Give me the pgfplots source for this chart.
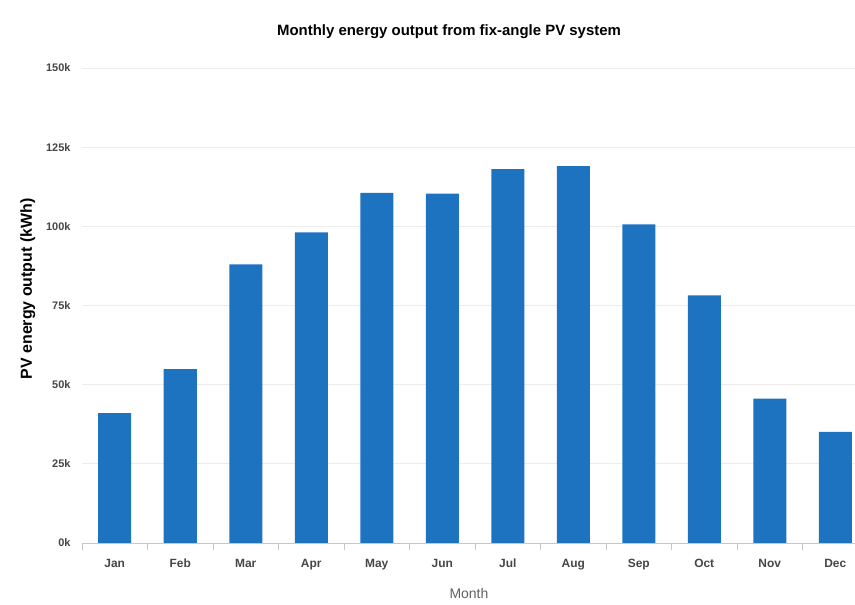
\documentclass[border=0pt]{standalone}
\usepackage{pgfplots}
\pgfplotsset{compat=1.18}
\usepackage{fontspec}
\setmainfont{Liberation Sans}
\definecolor{barblue}{RGB}{30,115,192}
\definecolor{ticktext}{RGB}{70,70,70}
\begin{document}
\begin{tikzpicture}
\path[use as bounding box] (-82bp,-62bp) rectangle (773bp,543bp);
\begin{axis}[
  at={(0,0)}, anchor=south west,
  scale only axis, width=786bp, height=475bp,
  xmin=-0.5, xmax=11.5, ymin=0, ymax=150000,
  ybar, bar width=33bp,
  axis lines*=left,
  y axis line style={draw=none},
  x axis line style={draw=gray!45, line width=0.8pt},
  ytick={0,25000,50000,75000,100000,125000,150000},
  yticklabels={0k,25k,50k,75k,100k,125k,150k},
  scaled y ticks=false,
  ymajorgrids, grid style={gray!15, line width=0.8pt},
  ytick style={draw=none},
  xtick={0,1,2,3,4,5,6,7,8,9,10,11},
  xticklabels={Jan,Feb,Mar,Apr,May,Jun,Jul,Aug,Sep,Oct,Nov,Dec},
  xtick style={draw=none},
  extra x ticks={-0.5,0.5,1.5,2.5,3.5,4.5,5.5,6.5,7.5,8.5,9.5,10.5,11.5},
  extra x tick labels={},
  extra x tick style={xtick style={draw=gray!45, line width=0.8pt}, major tick length=7bp, tick align=outside},
  tick label style={font=\fontsize{11}{13}\selectfont\bfseries, text=ticktext},
  yticklabel style={xshift=-8bp},
  xticklabel style={yshift=-8bp, font=\fontsize{12}{14}\selectfont\bfseries, text height=1.6ex, text depth=0.3ex},
  title={Monthly energy output from fix-angle PV system},
  title style={font=\fontsize{15}{17}\selectfont\bfseries, yshift=20bp, xshift=-26bp},
  xlabel={Month},
  xlabel style={font=\fontsize{14}{16}\selectfont, text=gray!75!black, yshift=-2bp, xshift=-6bp},
  ylabel={PV energy output (kWh)},
  ylabel style={at={(ticklabel cs:0.535)}, font=\fontsize{16}{18}\selectfont\bfseries, yshift=4bp},
]
\addplot[fill=barblue, draw=none] coordinates {
  (0,41000) (1,54900) (2,88000) (3,98100) (4,110600) (5,110300)
  (6,118100) (7,119000) (8,100600) (9,78200) (10,45600) (11,35100)
};
\end{axis}
\end{tikzpicture}
\end{document}
